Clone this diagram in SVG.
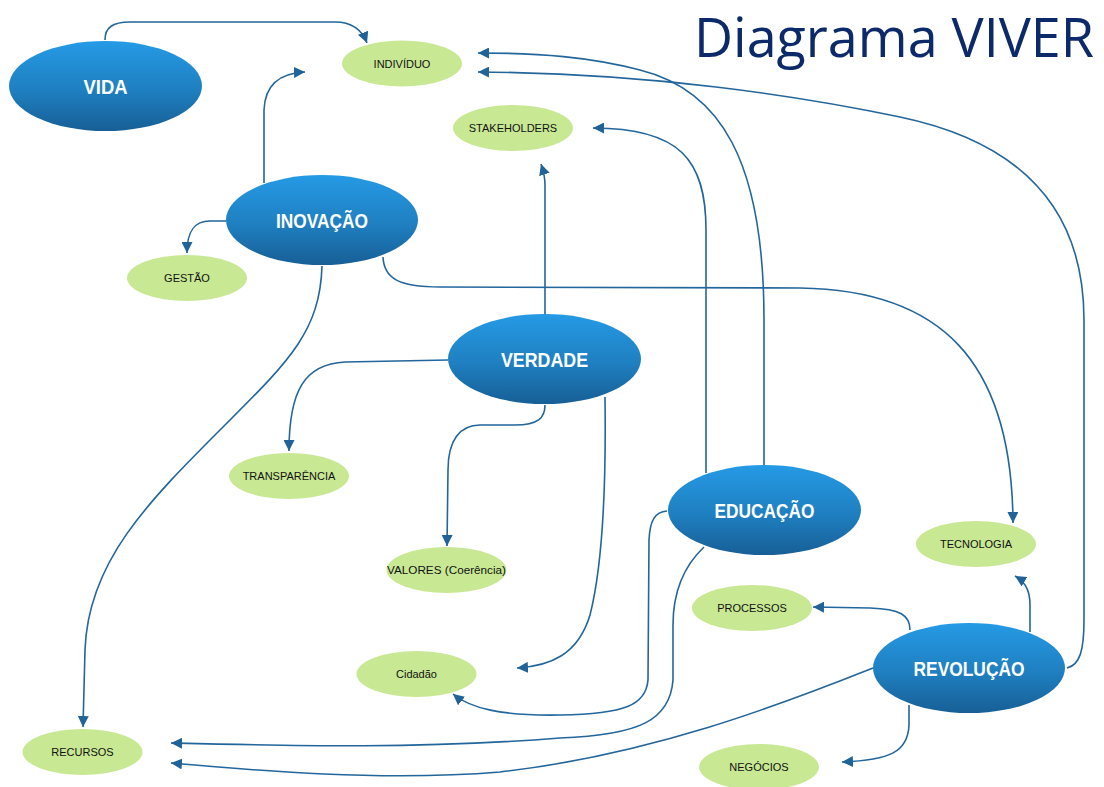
<svg xmlns="http://www.w3.org/2000/svg" width="1104" height="787" viewBox="0 0 1104 787">
<defs>
<linearGradient id="blueGrad" x1="0" y1="0" x2="0" y2="1">
<stop offset="0" stop-color="#259ae5"/>
<stop offset="0.55" stop-color="#1f7fc0"/>
<stop offset="1" stop-color="#175f96"/>
</linearGradient>
<marker id="arr" markerUnits="userSpaceOnUse" markerWidth="11" markerHeight="11" viewBox="0 0 10 10" refX="10" refY="5" orient="auto">
<path d="M0,0 L10,5 L0,10 Z" fill="#1f6399"/>
</marker>
<style>
.main ellipse{fill:url(#blueGrad);}
.main text{font-family:"Liberation Sans",Arial,sans-serif;font-weight:bold;font-size:21px;fill:#ffffff;text-anchor:middle;}
.leaf ellipse{fill:#c8e894;}
.leaf text{font-family:"Liberation Sans",Arial,sans-serif;font-size:11px;fill:#111111;text-anchor:middle;}
.conn path{fill:none;stroke:#22669c;stroke-width:1.6;marker-end:url(#arr);}
.title{font-family:"Open Sans","Noto Sans",sans-serif;font-size:55px;fill:#0c2a6a;}
</style>
</defs>
<rect width="1104" height="787" fill="#ffffff"/>
<text class="title" x="694" y="57" textLength="400" lengthAdjust="spacingAndGlyphs">Diagrama VIVER</text>

<g id="connectors" class="conn">
<path d="M105,40 C105,28 112,22 130,22 L335,22 C352,22 362,30 367,43"/>
<path d="M264,183 L264,110 C265,85 280,73 305,72"/>
<path d="M226,221 L210,221 C195,221 187,230 187,253"/>
<path d="M322,266 C320,330 290,360 230,420 C150,500 88,560 85,650 L83,727"/>
<path d="M383,257 C384,278 398,287 440,287 L800,288 C940,290 1012,360 1013,523"/>
<path d="M545,314 L545,185 C545,175 543,170 541,164"/>
<path d="M448,360 L345,362 C305,364 289,390 289,451"/>
<path d="M545,405 C545,418 538,425 515,425 L480,425 C460,425 448,440 448,470 L447,546"/>
<path d="M605,397 C606,470 604,560 590,615 C578,655 550,666 517,668"/>
<path d="M706,473 L706,230 C706,160 680,128 593,128"/>
<path d="M764,465 L764,320 C764,160 720,90 640,70 C590,57 540,53 478,53"/>
<path d="M667,511 C655,512 650,520 649,540 L648,680 C646,705 625,714 560,715 C500,716 470,708 453,694"/>
<path d="M704,547 C685,565 673,590 673,625 L673,680 C670,720 640,735 560,738 C420,749 300,746 171,743"/>
<path d="M873,668 C780,705 650,755 500,772 C380,782 250,770 171,763"/>
<path d="M910,630 C910,615 900,609 870,608 L813,607"/>
<path d="M1030,632 L1030,605 C1030,590 1025,582 1015,576"/>
<path d="M1067,668 C1080,665 1084,650 1084,620 L1084,320 C1084,200 1010,140 900,117 C800,96 650,73 478,72"/>
<path d="M909,705 L909,725 C908,752 890,760 842,762"/>
</g>

<g id="vida" class="main"><ellipse cx="105.5" cy="86" rx="96.5" ry="45"/><text x="105.5" y="94" textLength="44" lengthAdjust="spacingAndGlyphs">VIDA</text></g>
<g id="inovacao" class="main"><ellipse cx="322" cy="220" rx="96" ry="45"/><text x="322" y="228" textLength="92" lengthAdjust="spacingAndGlyphs">INOVAÇÃO</text></g>
<g id="verdade" class="main"><ellipse cx="544.5" cy="359" rx="96.5" ry="45"/><text x="544.5" y="367" textLength="87" lengthAdjust="spacingAndGlyphs">VERDADE</text></g>
<g id="educacao" class="main"><ellipse cx="764.5" cy="510" rx="96.5" ry="45"/><text x="764.5" y="518" textLength="100" lengthAdjust="spacingAndGlyphs">EDUCAÇÃO</text></g>
<g id="revolucao" class="main"><ellipse cx="969" cy="668" rx="96" ry="45"/><text x="969" y="676" textLength="111" lengthAdjust="spacingAndGlyphs">REVOLUÇÃO</text></g>

<g id="individuo" class="leaf"><ellipse cx="402" cy="63.5" rx="60" ry="23"/><text x="402" y="68">INDIVÍDUO</text></g>
<g id="stakeholders" class="leaf"><ellipse cx="513" cy="128" rx="60" ry="23"/><text x="513" y="132">STAKEHOLDERS</text></g>
<g id="gestao" class="leaf"><ellipse cx="187" cy="278" rx="60" ry="23"/><text x="187" y="282">GESTÃO</text></g>
<g id="transparencia" class="leaf"><ellipse cx="289" cy="476" rx="60" ry="23"/><text x="289" y="480">TRANSPARÊNCIA</text></g>
<g id="valores" class="leaf"><ellipse cx="446.5" cy="570" rx="60" ry="23"/><text x="446.5" y="574" textLength="119" lengthAdjust="spacingAndGlyphs">VALORES (Coerência)</text></g>
<g id="cidadao" class="leaf"><ellipse cx="416.5" cy="674" rx="60" ry="23"/><text x="416.5" y="678">Cidadão</text></g>
<g id="tecnologia" class="leaf"><ellipse cx="976" cy="544" rx="60" ry="23"/><text x="976" y="548">TECNOLOGIA</text></g>
<g id="processos" class="leaf"><ellipse cx="752" cy="608" rx="60" ry="23"/><text x="752" y="612">PROCESSOS</text></g>
<g id="recursos" class="leaf"><ellipse cx="82.5" cy="752" rx="60" ry="23"/><text x="82.5" y="756">RECURSOS</text></g>
<g id="negocios" class="leaf"><ellipse cx="759" cy="767" rx="60" ry="23"/><text x="759" y="771">NEGÓCIOS</text></g>
</svg>
